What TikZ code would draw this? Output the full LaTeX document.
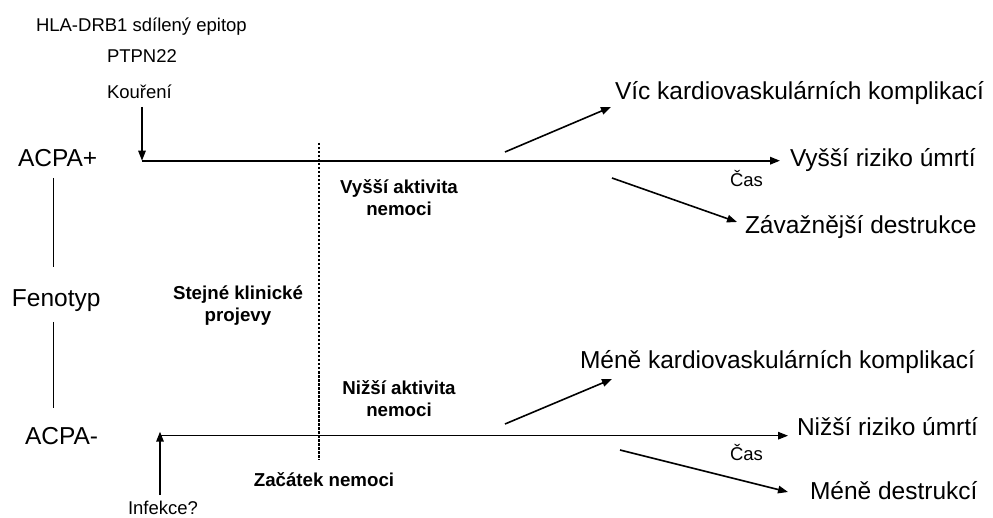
\documentclass[tikz,border=0pt]{standalone}
\usepackage{fontspec}
\setmainfont{Liberation Sans}
\usetikzlibrary{arrows.meta}
\tikzset{
  txt/.style={inner sep=0pt, outer sep=0pt, anchor=base west},
  big/.style={txt, font=\fontsize{24.5}{29}\selectfont},
  small/.style={txt, font=\fontsize{18.5}{22}\selectfont},
  boldlbl/.style={inner sep=0pt, outer sep=0pt, anchor=base, align=center,
    font=\fontsize{18.7}{22.5}\selectfont\bfseries},
  tip/.style={-{Triangle[length=10pt,width=7.5pt]}},
  timeline/.style={tip, line width=1.8pt},
  timeline2/.style={tip, line width=1.4pt},
  diag/.style={tip, line width=1.6pt},
  phen/.style={line width=1pt},
  onset/.style={line width=1.2pt, dash pattern=on 2.5pt off 1.5pt},
}
\begin{document}
\begin{tikzpicture}[x=1pt,y=-1pt]
\useasboundingbox[fill=white] (0,0) rectangle (993,518);

% left column
\node[small] (hla) at (36,31.5) {HLA-DRB1 sdílený epitop};
\node[small] (ptpn) at (107,63) {PTPN22};
\node[small] (kour) at (107,99) {Kouření};
\node[big] (acpap) at (18,167) {ACPA+};
\node[big] (fen) at (12,307) {Fenotyp};
\node[big] (acpam) at (25,444) {ACPA-};
\node[small] (inf) at (128,514.5) {Infekce?};

% middle labels (base anchor = baseline of the last line)
\node[boldlbl] (stejne) at (238,322) {Stejné klinické\\projevy};
\node[boldlbl] (vyssi) at (399,216) {Vyšší aktivita\\nemoci};
\node[boldlbl] (nizsi) at (399,417) {Nižší aktivita\\nemoci};
\node[boldlbl] (zacatek) at (324,486) {Začátek nemoci};

% right labels
\node[big] (vic) at (615,99.3) {Víc kardiovaskulárních komplikací};
\node[big] (vr) at (790,167) {Vyšší riziko úmrtí};
\node[small] (cas1) at (730,186.7) {Čas};
\node[big] (zav) at (745,234) {Závažnější destrukce};
\node[big] (mk) at (580,368.5) {Méně kardiovaskulárních komplikací};
\node[big] (nr) at (797,435) {Nižší riziko úmrtí};
\node[small] (cas2) at (730,460) {Čas};
\node[big] (md) at (810,499) {Méně destrukcí};

% coordinates
\coordinate (k1) at (142,107);
\coordinate (t1s) at (142,160.7);
\coordinate (t1e) at (780,160.7);
\coordinate (i1) at (160,495);
\coordinate (t2s) at (160,435.7);
\coordinate (t2e) at (788,435.7);
\coordinate (u1s) at (505,152);
\coordinate (u1e) at (611,107);
\coordinate (u2s) at (612,178);
\coordinate (u2e) at (737,222);
\coordinate (l1s) at (505,424);
\coordinate (l1e) at (612,379);
\coordinate (l2s) at (620,450);
\coordinate (l2e) at (788,492);
\coordinate (v1a) at (53,178);
\coordinate (v1b) at (53,267);
\coordinate (v2a) at (53,322);
\coordinate (v2b) at (53,408);
\coordinate (d1) at (319,143);
\coordinate (d2) at (319,460);

% phenotype connector
\draw[phen] (v1a) -- (v1b);
\draw[phen] (v2a) -- (v2b);

% onset of disease
\draw[onset] (d1) -- (d2);

% timelines
\draw[tip, line width=1.3pt] (k1) -- (t1s);
\draw[timeline] (t1s) -- (t1e);
\draw[tip, line width=1.6pt] (i1) -- ([yshift=4pt]t2s);
\draw[timeline2] (t2s) -- (t2e);

% outcomes
\draw[diag] (u1s) -- (u1e);
\draw[diag] (u2s) -- (u2e);
\draw[diag] (l1s) -- (l1e);
\draw[diag] (l2s) -- (l2e);
\end{tikzpicture}
\end{document}
